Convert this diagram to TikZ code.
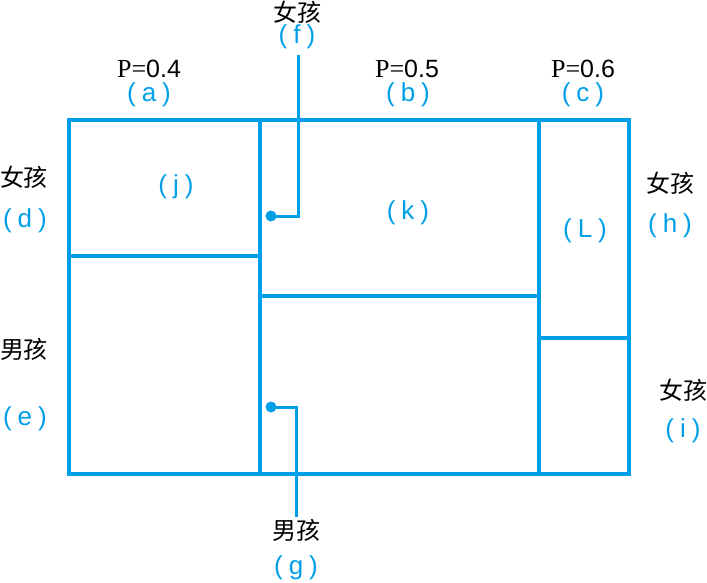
\documentclass[tikz,border=0pt]{standalone}
\usepackage{fontspec}
\setmainfont{Liberation Serif}
\setsansfont{Liberation Sans}
\newfontfamily\cjk{Noto Sans CJK SC}
\usetikzlibrary{positioning}
\definecolor{sky}{RGB}{0,160,233}
\newcommand{\pl}[1]{(\hspace{6pt}#1\hspace{6pt})}

\begin{document}
\begin{tikzpicture}[x=1pt, y=-1pt,
    wall/.style={draw=sky, line width=4.5pt},
    lead/.style={draw=sky, line width=3pt},
    tag/.style={text=sky, font=\fontsize{26}{30}\selectfont\sffamily, inner sep=0pt},
    kid/.style={font=\fontsize{24}{28}\selectfont\cjk, inner sep=0pt},
    prob/.style={font=\fontsize{26}{30}\selectfont, inner sep=0pt}]
  \useasboundingbox (0,0) rectangle (707,582);
  % the unit square cut into strips
  \draw[wall] (69,120) rectangle (629,474);
  \draw[wall] (260,120) -- (260,474);
  \draw[wall] (539,120) -- (539,474);
  \draw[wall] (69,256) -- (260,256);
  \draw[wall] (260,296) -- (539,296);
  \draw[wall] (539,338) -- (629,338);
  % probabilities on top
  \node[prob] (pa) at (149,69) {P=\sffamily\fontsize{25}{29}\selectfont 0.4};
  \node[tag] (a) at (149,95) {\pl{a}};
  \node[prob] (pb) at (407,69) {P=\sffamily\fontsize{25}{29}\selectfont 0.5};
  \node[tag] (b) at (408,95) {\pl{b}};
  \node[prob] (pc) at (583,69) {P=\sffamily\fontsize{25}{29}\selectfont 0.6};
  \node[tag] (c) at (583,95) {\pl{c}};
  % left side
  \node[kid] (dg) at (24,177) {女孩};
  \node[tag] (d) at (25,221) {\pl{d}};
  \node[kid] (eb) at (24,349) {男孩};
  \node[tag] (e) at (25,419) {\pl{e}};
  % right side
  \node[kid] (hg) at (670,183) {女孩};
  \node[tag] (h) at (670,226) {\pl{h}};
  \node[kid] (ig) at (683,390) {女孩};
  \node[tag] (i) at (683,431) {\pl{i}};
  % inside the cells
  \node[tag] (j) at (176,187) {\pl{j}};
  \node[tag] (k) at (408,213) {\pl{k}};
  \node[tag] (L) at (585,231) {\pl{L}};
  % leaders
  \node[kid] (fg) at (297,12) {女孩};
  \node[tag] (f) at (297,37) {\pl{f}};
  \coordinate (fend) at (298,55);
  \coordinate (fdot) at (271,216);
  \draw[lead] (fend) |- (fdot);
  \fill[sky] (fdot) circle (5.5);
  \node[kid] (gb) at (296,530) {男孩};
  \node[tag] (g) at (296,568) {\pl{g}};
  \coordinate (gend) at (296,517);
  \coordinate (gdot) at (271,407);
  \draw[lead] (gend) |- (gdot);
  \fill[sky] (gdot) circle (5.5);
\end{tikzpicture}
\end{document}
